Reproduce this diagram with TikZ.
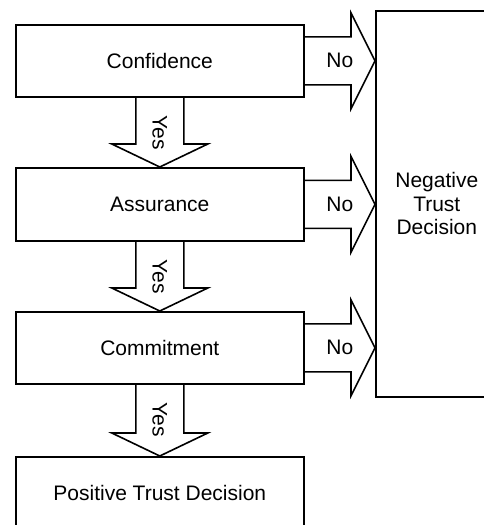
\documentclass[tikz,border=0pt]{standalone}
\usepackage{fontspec}
\setmainfont{Liberation Sans}
\usetikzlibrary{calc}
\tikzset{
  txt/.style={font=\fontsize{21}{23.5}\selectfont},
  box/.style={draw, line width=1.6pt, inner sep=0pt, anchor=north west, align=center, txt},
  blk/.style={draw, line width=1.6pt, line join=miter},
  lbl/.style={inner sep=0pt, txt},
}
\newcommand\yesarrow[2]{%
  \draw[blk] ($(#1.south)+(-24,0)$) -- ($(#2.north)+(-24,-23)$) -- ($(#2.north)+(-48,-23)$)
    -- (#2.north) -- ($(#2.north)+(48,-23)$) -- ($(#2.north)+(24,-23)$) -- ($(#1.south)+(24,0)$);}
\newcommand\noarrow[2]{%
  \draw[blk] ($(#1.east)+(0,-24)$) -- ($(#2)+(-24,-24)$) -- ($(#2)+(-24,-48)$)
    -- (#2) -- ($(#2)+(-24,48)$) -- ($(#2)+(-24,24)$) -- ($(#1.east)+(0,24)$);}
\begin{document}
\begin{tikzpicture}[x=1pt, y=-1pt]
  \useasboundingbox (0,0) rectangle (484,525);
  \clip (0,0) rectangle (484,525);
  % boxes
  \node[box, minimum width=288pt, minimum height=72pt] (conf) at (15,24) {Confidence};
  \node[box, minimum width=288pt, minimum height=73pt] (assur) at (15,167) {Assurance};
  \node[box, minimum width=288pt, minimum height=72pt] (comm) at (15,311) {Commitment};
  \node[box, minimum width=288pt, minimum height=72pt] (pos) at (15,456) {Positive Trust Decision};
  \node[box, minimum width=122pt, minimum height=386pt] (neg) at (375,10) {Negative\\Trust\\Decision};
  % tips on the negative box
  \coordinate (t1) at (conf.east -| neg.west);
  \coordinate (t2) at (assur.east -| neg.west);
  \coordinate (t3) at (comm.east -| neg.west);
  % yes arrows
  \yesarrow{conf}{assur}
  \yesarrow{assur}{comm}
  \yesarrow{comm}{pos}
  \node[lbl, rotate=-90] (y1) at ($(conf.south)+(0,35)$) {Yes};
  \node[lbl, rotate=-90] (y2) at ($(assur.south)+(0,35)$) {Yes};
  \node[lbl, rotate=-90] (y3) at ($(comm.south)+(0,35)$) {Yes};
  % no arrows
  \noarrow{conf}{t1}
  \noarrow{assur}{t2}
  \noarrow{comm}{t3}
  \node[lbl] (n1) at ($(conf.east)!0.5!(t1)$) {No};
  \node[lbl] (n2) at ($(assur.east)!0.5!(t2)$) {No};
  \node[lbl] (n3) at ($(comm.east)!0.5!(t3)$) {No};
\end{tikzpicture}
\end{document}
